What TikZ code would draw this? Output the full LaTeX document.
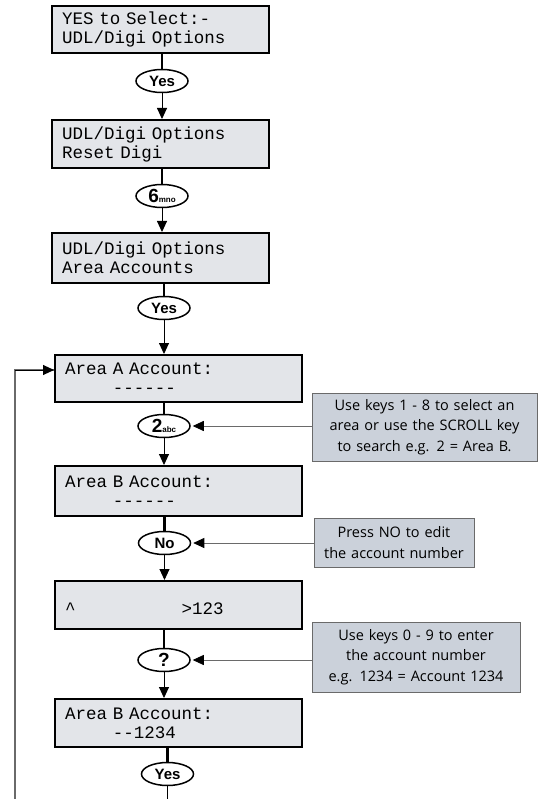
\documentclass[tikz,border=0pt]{standalone}
\usepackage{fontspec}
\usetikzlibrary{arrows.meta,shapes.geometric}

\newfontfamily\lcdfont{Liberation Mono}
\newfontfamily\keyfont{Liberation Sans}
\newfontfamily\notefont{Open Sans}

\definecolor{lcdgray}{HTML}{E3E5E9}
\definecolor{noteblue}{HTML}{CBD1DA}
\definecolor{linegray}{HTML}{6A6A6A}

\newcommand{\keytxt}[2]{{\fontsize{19}{19}\selectfont #1}{\fontsize{8}{8}\selectfont #2}}

\begin{document}
\begin{tikzpicture}[x=1pt, y=-1pt,
    lcd/.style={draw, line width=2pt, fill=lcdgray, align=left,
      font=\lcdfont\fontsize{17.5}{19}\selectfont, inner xsep=10pt, inner ysep=0pt},
    lcdnarrow/.style={lcd, minimum width=217pt, text width=197pt},
    lcdwide/.style={lcd, minimum width=247pt, text width=227pt},
    key/.style={ellipse, draw, line width=1.5pt, fill=white, inner sep=0pt,
      minimum width=52pt, minimum height=23pt, font=\keyfont\bfseries\fontsize{15}{15}\selectfont},
    note/.style={draw=linegray, line width=0.8pt, fill=noteblue, align=center,
      font=\notefont\fontsize{14.5}{20.5}\selectfont, inner xsep=2pt, inner ysep=2pt},
    feed/.style={line width=2.5pt},
    flow/.style={line width=0.9pt, -{Triangle[length=11pt, width=10pt]}},
    hint/.style={draw=linegray, line width=0.8pt, shorten >=2pt,
      -{Triangle[length=11pt, width=10pt, color=black, fill=black]}},
  ]
  \useasboundingbox (0,0) rectangle (541,799);

  % display screens
  \node[lcdnarrow, minimum height=47pt] (menu)   at (160.5,29.5) {YES to Select:-\\UDL/Digi Options};
  \node[lcdnarrow, minimum height=48pt] (reset)  at (160.5,144)  {UDL/Digi Options\\Reset Digi};
  \node[lcdnarrow, minimum height=50pt] (accts)  at (160.5,258)  {UDL/Digi Options\\Area Accounts};
  \node[lcdwide, minimum height=47pt]   (areaA)  at (178.5,378.5) {Area A Account:\\\phantom{Area }------};
  \node[lcdwide, minimum height=50pt]   (areaB)  at (178.5,491)  {Area B Account:\\\phantom{Area }------};
  \node[lcdwide, minimum height=48pt]   (entry)  at (178.5,605)  {\mbox{}\\\textasciicircum\phantom{Area B Acco}>123};
  \node[lcdwide, minimum height=48pt]   (areaBn) at (178.5,723)  {Area B Account:\\\phantom{Area }--1234};

  % keys
  \node[key] (yesA)  at (162,81)    {Yes};
  \node[key] (six)   at (162,196)   {\keytxt{6}{mno}};
  \node[key] (yesB)  at (164,308)   {Yes};
  \node[key] (two)   at (164,426)   {\keytxt{2}{abc}};
  \node[key] (no)    at (164.5,543) {No};
  \node[key] (query) at (164,660)   {\keytxt{?}{}};
  \node[key] (yesC)  at (167.5,774) {Yes};

  % hints
  \node[note, text width=221pt, minimum height=68pt] (scrollnote) at (424.5,427)
    {Use keys 1 - 8 to select an\\area or use the SCROLL key\\to search e.g. 2 = Area B.};
  \node[note, text width=156pt, minimum height=49pt] (editnote) at (394,542.5)
    {Press NO to edit\\the account number};
  \node[note, text width=204pt, minimum height=70pt] (enternote) at (416,657)
    {Use keys 0 - 9 to enter\\the account number\\e.g. 1234 = Account 1234};

  % main flow
  \draw[feed] (yesA.north |- menu.south)   -- (yesA.north);
  \draw[flow] (yesA.south)  -- (yesA.south |- reset.north);
  \draw[feed] (six.north |- reset.south)   -- (six.north);
  \draw[flow] (six.south)   -- (six.south |- accts.north);
  \draw[feed] (yesB.north |- accts.south)  -- (yesB.north);
  \draw[flow] (yesB.south)  -- (yesB.south |- areaA.north);
  \draw[feed] (two.north |- areaA.south)   -- (two.north);
  \draw[flow] (two.south)   -- (two.south |- areaB.north);
  \draw[feed] (no.north |- areaB.south)    -- (no.north);
  \draw[flow] (no.south)    -- (no.south |- entry.north);
  \draw[feed] (query.north |- entry.south) -- (query.north);
  \draw[flow] (query.south) -- (query.south |- areaBn.north);
  \draw[feed] (yesC.north |- areaBn.south) -- (yesC.north);

  % loop back
  \coordinate (flowend) at (167.5,799);
  \coordinate (loopend) at (15,799);
  \coordinate (looptop) at (15,370);
  \draw[line width=0.9pt] (yesC.south) -- (flowend);
  \draw[linegray, line width=1.5pt] (loopend) -- (looptop) -- ([yshift=8.5pt]areaA.west);
  \draw[flow] (looptop) -- ([yshift=8.5pt]areaA.west);

  % hint arrows
  \draw[hint] (scrollnote.west |- two)  -- (two.east);
  \draw[hint] (editnote.west |- no)     -- (no.east);
  \draw[hint] (enternote.west |- query) -- (query.east);
\end{tikzpicture}
\end{document}
